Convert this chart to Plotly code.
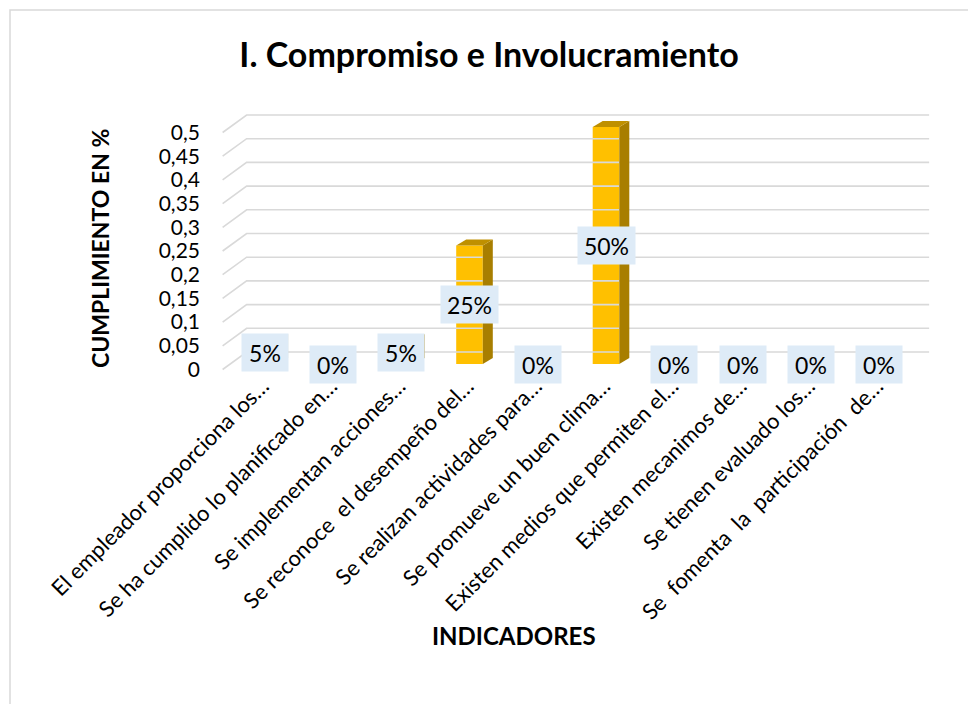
import plotly.graph_objects as go

# datos del gráfico
categorias = [
    "El empleador proporciona los…",
    "Se ha cumplido lo planificado en…",
    "Se implementan acciones…",
    "Se reconoce\u00a0\u00a0el desempeño del…",
    "Se realizan actividades para…",
    "Se promueve un buen clima…",
    "Existen medios que permiten el…",
    "Existen mecanimos de…",
    "Se tienen evaluado los…",
    "Se\u00a0\u00a0fomenta\u00a0\u00a0la\u00a0\u00a0participación\u00a0\u00a0de…",
]
valores = [0.05, 0, 0.05, 0.25, 0, 0.5, 0, 0, 0, 0]
etiquetas = ["5%", "0%", "5%", "25%", "0%", "50%", "0%", "0%", "0%", "0%"]
ticks_y = [0, 0.05, 0.1, 0.15, 0.2, 0.25, 0.3, 0.35, 0.4, 0.45, 0.5]

FONT = "Lato, 'Open Sans', sans-serif"
W, H = 976, 704
OFF = 8  # margen del body de la pagina
# area de trazado en pixeles de pantalla
L, R, T, B = 215, 945, 100, 372
PXX = 68.25   # px por categoria
PXY = 474.0   # px por unidad
X0PX = 256.75  # centro categoria 0 en el plano frontal
Y0PX = 369.5   # valor 0 en el plano frontal


def dx(p):
    return p / PXX


def dy(p):
    return p / PXY


def paper_x(p):
    return (p - L) / (R - L)


def paper_y(p):
    return (B - p) / (B - T)


xr = [(L - X0PX) / PXX, (R - X0PX) / PXX]
yr = [(Y0PX - B) / PXY, (Y0PX - T) / PXY]

fig = go.Figure()

# paredes: lineas de cuadricula con perspectiva
gx, gy = [], []
for v in ticks_y:
    gx += [-0.5, -0.5 + dx(24), 9.5 + dx(24), None]
    gy += [v, v + dy(17.5), v + dy(17.5), None]
fig.add_trace(go.Scatter(x=gx, y=gy, mode="lines", hoverinfo="skip",
                         line=dict(color="#D9D9D9", width=1.6), showlegend=False))

# barras 3D
off_x, off_y = dx(8), dy(5.5)
half = dx(13.3)
sx, sy = dx(10), dy(6)
xs = [i + off_x for i in range(len(valores))]
fig.add_trace(go.Bar(x=xs, y=valores, base=off_y, width=2 * half,
                     marker=dict(color="#FFC000", line=dict(width=0)),
                     showlegend=False, hoverinfo="skip"))
for i, v in enumerate(valores):
    if v == 0:
        continue
    xc = xs[i]
    top = v + off_y
    # cara lateral
    fig.add_trace(go.Scatter(
        x=[xc + half, xc + half + sx, xc + half + sx, xc + half, xc + half],
        y=[off_y, off_y + sy, top + sy, top, off_y],
        fill="toself", fillcolor="#A87E00", mode="lines", line=dict(width=0),
        hoverinfo="skip", showlegend=False))
    # tapa superior
    fig.add_trace(go.Scatter(
        x=[xc - half, xc + half, xc + half + sx, xc - half + sx, xc - half],
        y=[top, top, top + sy, top + sy, top],
        fill="toself", fillcolor="#BF9000", mode="lines", line=dict(width=0),
        hoverinfo="skip", showlegend=False))

# etiquetas de datos
for i, v in enumerate(valores):
    fig.add_annotation(x=xs[i], y=v / 2 + off_y, text=etiquetas[i], showarrow=False,
                       bgcolor="#DEEBF7", width=24 + 11 * len(etiquetas[i]), height=37,
                       borderpad=0, xanchor="center", yanchor="middle",
                       font=dict(family=FONT, size=23, color="#000000"))

# titulos de ejes
fig.add_annotation(xref="paper", yref="paper", x=paper_x(100), y=paper_y(249),
                   xanchor="center", yanchor="middle",
                   text="<b>CUMPLIMIENTO EN %</b>", textangle=-90, showarrow=False,
                   font=dict(family=FONT, size=23, color="#000000"))
fig.add_annotation(xref="paper", yref="paper", x=paper_x(514), y=paper_y(635),
                   xanchor="center", yanchor="middle",
                   text="<b>INDICADORES</b>", showarrow=False,
                   font=dict(family=FONT, size=24, color="#000000"))

# borde del area del grafico
fig.add_shape(type="rect", xref="paper", yref="paper",
              x0=paper_x(10), x1=paper_x(1000), y0=paper_y(720), y1=paper_y(10),
              line=dict(color="#D9D9D9", width=1.5), layer="below")

fig.update_layout(
    width=W, height=H,
    margin=dict(l=L - OFF, r=W - (R - OFF), t=T - OFF, b=H - (B - OFF)),
    paper_bgcolor="white", plot_bgcolor="white",
    separators=",.",
    title=dict(text="<b>I. Compromiso e Involucramiento</b>", x=(489 - OFF) / W,
               y=1 - (55 - OFF) / H, xanchor="center", yanchor="middle",
               font=dict(family=FONT, size=34, color="#000000")),
    font=dict(family=FONT, color="#000000"),
    xaxis=dict(range=xr, tickvals=[i + dx(6) for i in range(len(categorias))],
               ticktext=categorias, tickangle=-45, showgrid=False, zeroline=False,
               showline=False, ticks="", ticklabelstandoff=-4,
               tickfont=dict(family=FONT, size=22, color="#000000")),
    yaxis=dict(range=yr, tickvals=ticks_y, showgrid=False, zeroline=False,
               showline=False, ticks="", ticklabelstandoff=14,
               tickfont=dict(family=FONT, size=21, color="#000000")),
)

fig.write_html("out.html")
